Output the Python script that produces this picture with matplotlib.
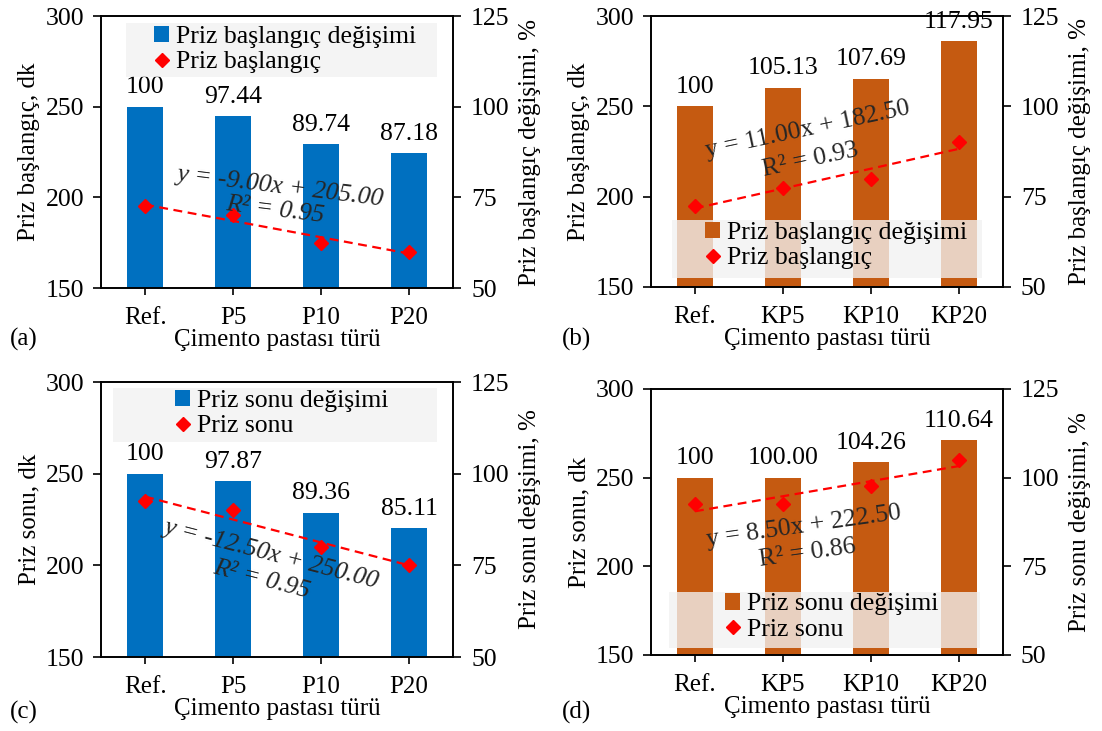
import numpy as np
import matplotlib
matplotlib.use('Agg')
import matplotlib.pyplot as plt
from matplotlib.patches import Rectangle

plt.rcParams['font.family'] = ['Liberation Serif', 'DejaVu Serif']
plt.rcParams['font.size'] = 18
plt.rcParams['axes.linewidth'] = 1.2

# kategori etiketleri
cats_p = ['Ref.', 'P5', 'P10', 'P20']
cats_kp = ['Ref.', 'KP5', 'KP10', 'KP20']

# priz baslangic (dk) ve degisim (%)
bas_p = [195, 190, 175, 170]
bas_p_pct = [100, 97.44, 89.74, 87.18]
bas_kp = [195, 205, 210, 230]
bas_kp_pct = [100, 105.13, 107.69, 117.95]

# priz sonu (dk) ve degisim (%)
son_p = [235, 230, 210, 200]
son_p_pct = [100, 97.87, 89.36, 85.11]
son_kp = [235, 235, 245, 260]
son_kp_pct = [100, 100.00, 104.26, 110.64]

blue = '#0070C0'
orange = '#C55A11'
red = '#FF0000'

fig = plt.figure(figsize=(11.02, 7.31), dpi=100)


def panel(rect, cats, dk, pct, color, bar_name, dot_name, ylab, y2lab, letter,
          letter_xy, italic, eq_xy, r2_xy, rot, leg_box, leg_anchor):
    ax = fig.add_axes(rect)
    ax2 = ax.twinx()
    ax.set_zorder(ax2.get_zorder() + 1)
    ax.patch.set_visible(False)

    x = np.arange(len(cats))
    bars = ax2.bar(x, pct, width=0.4, color=color, label=bar_name)
    labels = ['%g' % pct[0]] + ['%.2f' % v for v in pct[1:]]
    for xi, v, t in zip(x, pct, labels):
        ax2.annotate(t, (xi, v), xytext=(0, 6), textcoords='offset points',
                     ha='center', va='bottom', fontsize=18.5)

    dots, = ax.plot(x, dk, 'D', color=red, ms=7, label=dot_name, zorder=3)
    coef = np.polyfit(x + 1, dk, 1)
    fit = np.polyval(coef, x + 1)
    ax.plot(x, fit, linestyle=(0, (4, 2.5)), color=red, lw=1.6, zorder=2)
    r2 = 1 - np.sum((np.array(dk) - fit) ** 2) / np.sum((np.array(dk) - np.mean(dk)) ** 2)
    style = 'italic' if italic else 'normal'
    ax.text(eq_xy[0], eq_xy[1], 'y = %.2fx + %.2f' % (coef[0], coef[1]),
            rotation=rot, rotation_mode='anchor', ha='center', va='center',
            fontstyle=style, color='#262626', fontsize=18.5, zorder=3)
    ax.text(r2_xy[0], r2_xy[1], 'R² = %.2f' % r2,
            rotation=rot, rotation_mode='anchor', ha='center', va='center',
            fontstyle=style, color='#262626', fontsize=18.5, zorder=3)

    ax.add_patch(Rectangle((leg_box[0], leg_box[1]), leg_box[2] - leg_box[0],
                           leg_box[3] - leg_box[1], transform=ax.transAxes,
                           facecolor='#F2F2F2', alpha=0.78, edgecolor='none', zorder=4))
    ax.legend([bars, dots], [bar_name, dot_name], loc='upper left',
              bbox_to_anchor=leg_anchor, frameon=False, handlelength=0.6,
              handleheight=0.6, handletextpad=0.25, labelspacing=0.12,
              borderpad=0, borderaxespad=0, fontsize=18.5)

    ax.set_xlim(-0.5, len(cats) - 0.5)
    ax.set_ylim(150, 300)
    ax.set_yticks([150, 200, 250, 300])
    ax2.set_ylim(50, 125)
    ax2.set_yticks([50, 75, 100, 125])
    ax.set_xticks(x, cats)
    ax.tick_params(axis='x', direction='out', length=5, width=1.2, pad=9)
    ax.tick_params(axis='y', direction='out', length=6, width=1.2, pad=6,
                   labelsize=18.5)
    ax2.tick_params(axis='y', direction='out', length=6, width=1.2, pad=7,
                    labelsize=18.5)
    ax.set_ylabel(ylab, labelpad=4)
    ax2.set_ylabel(y2lab, labelpad=7)
    ax.set_xlabel('Çimento pastası türü', labelpad=0)
    fig.text(letter_xy[0], letter_xy[1], letter, ha='center', va='center')
    return ax


panel([0.0917, 0.606, 0.3194, 0.372], cats_p, bas_p, bas_p_pct, blue,
      'Priz başlangıç değişimi', 'Priz başlangıç',
      'Priz başlangıç, dk', 'Priz başlangıç değişimi, %', '(a)', (0.022, 0.535),
      True, (1.53, 205.7), (1.48, 193), -7,
      (0.071, 0.776, 0.955, 0.974), (0.15, 0.965))

panel([0.5907, 0.6074, 0.3194, 0.3707], cats_kp, bas_kp, bas_kp_pct, orange,
      'Priz başlangıç değişimi', 'Priz başlangıç',
      'Priz başlangıç, dk', 'Priz başlangıç değişimi, %', '(b)', (0.523, 0.535),
      False, (1.28, 236.9), (1.31, 220.3), 12,
      (0.06, 0.033, 0.94, 0.247), (0.153, 0.24))

panel([0.0917, 0.1012, 0.3194, 0.3762], cats_p, son_p, son_p_pct, blue,
      'Priz sonu değişimi', 'Priz sonu',
      'Priz sonu, dk', 'Priz sonu değişimi, %', '(c)', (0.022, 0.026),
      True, (1.43, 206.2), (1.32, 192), -14.5,
      (0.034, 0.782, 0.955, 0.978), (0.21, 0.972))

panel([0.5907, 0.104, 0.3194, 0.364], cats_kp, son_kp, son_kp_pct, orange,
      'Priz sonu değişimi', 'Priz sonu',
      'Priz sonu, dk', 'Priz sonu değişimi, %', '(d)', (0.523, 0.026),
      False, (1.24, 222.2), (1.28, 207.5), 8,
      (0.051, 0.026, 0.935, 0.237), (0.21, 0.232))

fig.savefig('out.png', dpi=100)
